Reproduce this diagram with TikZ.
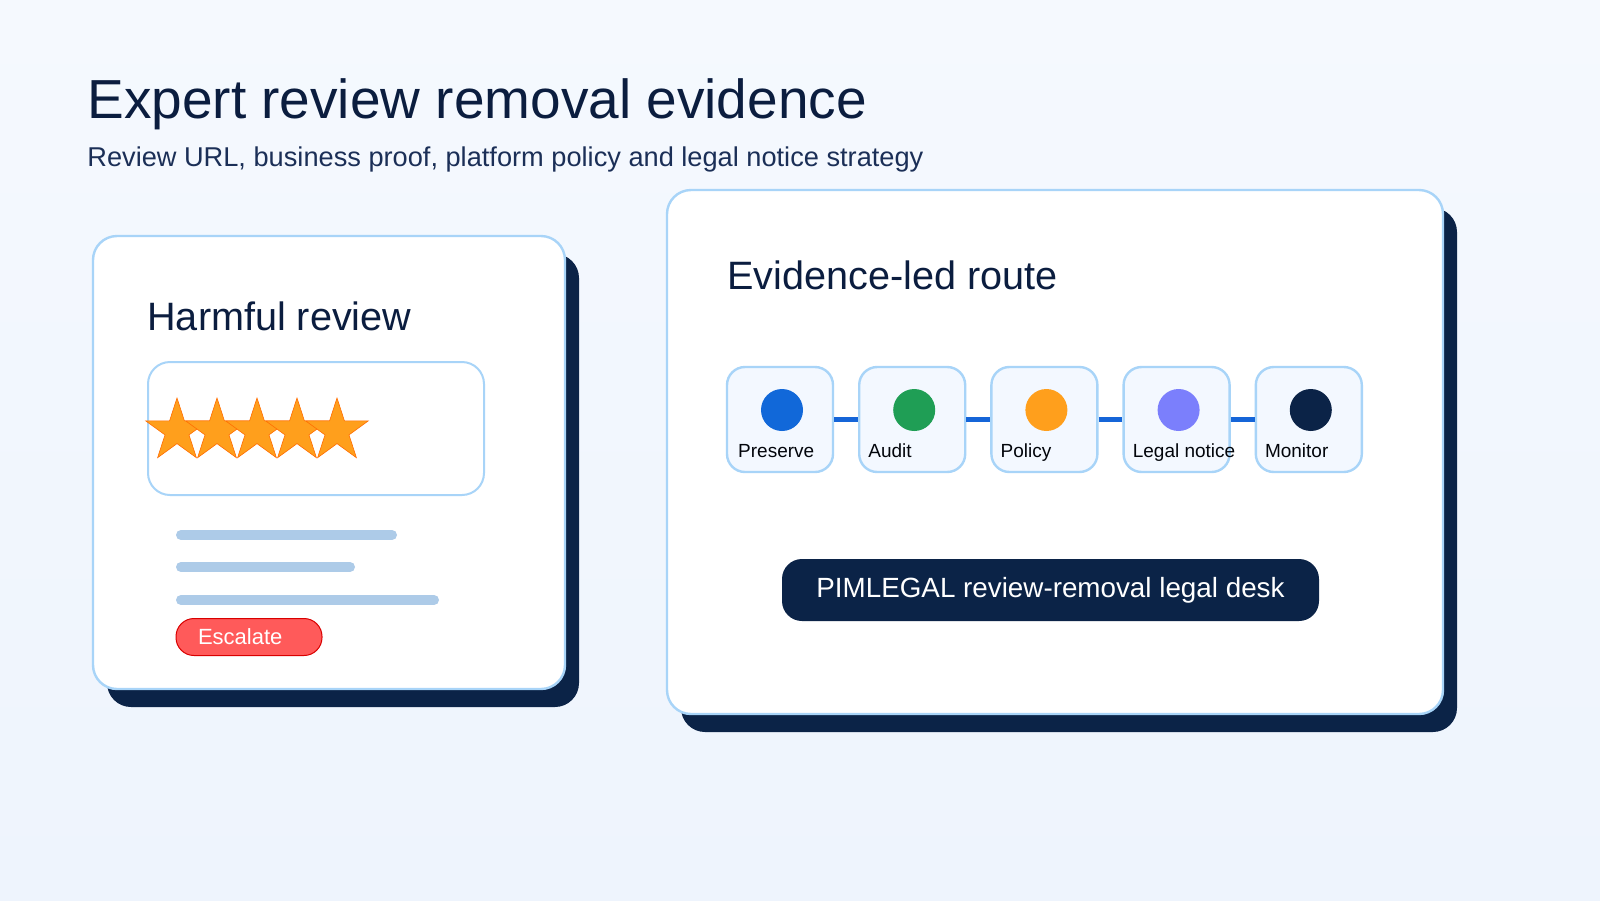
\documentclass[tikz,border=0pt]{standalone}
\usepackage{fontspec}
\setmainfont{Liberation Sans}
\usepackage{tikz}
\usetikzlibrary{positioning,shapes.geometric}

\definecolor{bgtop}{HTML}{F5F9FE}
\definecolor{bgbottom}{HTML}{EEF4FD}
\definecolor{ink}{HTML}{0B1D3F}
\definecolor{subink}{HTML}{1B2F57}
\definecolor{navy}{HTML}{0B2347}
\definecolor{edge}{HTML}{A8D4F8}
\definecolor{palefill}{HTML}{F3F8FF}
\definecolor{barblue}{HTML}{ADCBE8}
\definecolor{linkblue}{HTML}{1565D8}
\definecolor{starorange}{HTML}{FF9F1C}
\definecolor{alertred}{HTML}{FF5A5A}
\definecolor{dotblue}{HTML}{1168D9}
\definecolor{dotgreen}{HTML}{1F9E55}
\definecolor{dotviolet}{HTML}{7B7FFC}

\begin{document}
\begin{tikzpicture}[
  x=0.5pt, y=-0.5pt,
  node distance=11.9pt,
  card/.style={draw=edge, line width=1.2pt, fill=white, rounded corners=12pt},
  cardshadow/.style={fill=navy, rounded corners=12pt},
  heading/.style={anchor=base west, inner sep=0, text=ink, font=\fontsize{19.8pt}{24pt}\selectfont},
  stepbox/.style={
    draw=edge,
    fill=palefill,
    line width=1.2pt,
    rounded corners=9pt,
    minimum width=53pt,
    minimum height=52.5pt,
    inner sep=0
  },
  dot/.style={circle, minimum size=21pt, inner sep=0},
  steplabel/.style={anchor=base west, inner sep=0, text=black!85!navy, font=\fontsize{9.5pt}{11pt}\selectfont},
  link/.style={draw=linkblue, line width=2.5pt},
  reviewstar/.style={star, star points=5, star point ratio=2.618, minimum size=33pt, inner sep=0,
    fill=starorange, draw=orange!85!red, line width=0.3pt},
  bar/.style={draw=barblue, line width=5pt, line cap=round}
]
\shade[top color=bgtop, bottom color=bgbottom] (0,0) rectangle (1600,900);
\useasboundingbox (0,0) rectangle (1600,900);

% titles
\node[anchor=base west, inner sep=0, text=ink, font=\fontsize{27.5pt}{33pt}\selectfont] (title) at (87,118)
  {Expert review removal evidence};
\node[anchor=base west, inner sep=0, text=subink, font=\fontsize{13.6pt}{16pt}\selectfont] (subtitle) at (87,166)
  {Review URL, business proof, platform policy and legal notice strategy};

% left card: the review
\fill[cardshadow] (107,254) rectangle (579,707);
\draw[card] (93,236) rectangle (565,689);
\node[heading] (harmful) at (147,330) {Harmful review};
\draw[draw=edge, line width=1pt, fill=white, rounded corners=11pt] (148,362) rectangle (484,495);
\node[reviewstar] (star1) at (177,431) {};
\node[reviewstar] (star2) at (217,431) {};
\node[reviewstar] (star3) at (257,431) {};
\node[reviewstar] (star4) at (297,431) {};
\node[reviewstar] (star5) at (337,431) {};
\draw[bar] (181,535) -- (392,535);
\draw[bar] (181,567) -- (350,567);
\draw[bar] (181,600) -- (434,600);
\node[fill=alertred, draw=red!85!black, line width=0.5pt, rounded corners=9pt,
  minimum width=73pt, minimum height=18.5pt, inner xsep=11pt, inner ysep=0,
  text width=51pt, align=left, text=white, font=\fontsize{11pt}{13pt}\selectfont]
  (escalate) at (249,637) {Escalate};

% right card: the route
\fill[cardshadow] (681,208) rectangle (1457,732);
\draw[card] (667,190) rectangle (1443,714);
\node[heading] (route) at (727,289) {Evidence-led route};

\node[stepbox] (preserve) at (780,419.5) {};
\node[stepbox, right=of preserve] (audit) {};
\node[stepbox, right=of audit] (policy) {};
\node[stepbox, right=of policy] (notice) {};
\node[stepbox, right=of notice] (monitor) {};

\node[dot, fill=dotblue] (preservedot) at ([xshift=1pt, yshift=4.75pt]preserve.center) {};
\node[dot, fill=dotgreen] (auditdot) at ([xshift=1pt, yshift=4.75pt]audit.center) {};
\node[dot, fill=starorange] (policydot) at ([xshift=1pt, yshift=4.75pt]policy.center) {};
\node[dot, fill=dotviolet] (noticedot) at ([xshift=1pt, yshift=4.75pt]notice.center) {};
\node[dot, fill=navy] (monitordot) at ([xshift=1pt, yshift=4.75pt]monitor.center) {};

\node[steplabel] (preservelabel) at ([xshift=6pt, yshift=-18.75pt]preserve.west) {Preserve};
\node[steplabel] (auditlabel) at ([xshift=5pt, yshift=-18.75pt]audit.west) {Audit};
\node[steplabel] (policylabel) at ([xshift=5pt, yshift=-18.75pt]policy.west) {Policy};
\node[steplabel] (noticelabel) at ([xshift=5pt, yshift=-18.75pt]notice.west) {Legal notice};
\node[steplabel] (monitorlabel) at ([xshift=5pt, yshift=-18.75pt]monitor.west) {Monitor};

\draw[link] (preserve) -- (audit);
\draw[link] (audit) -- (policy);
\draw[link] (policy) -- (notice);
\draw[link] (notice) -- (monitor);

\node[fill=navy, rounded corners=10pt, minimum width=268.5pt, minimum height=31pt,
  text=white, font=\fontsize{13.9pt}{16pt}\selectfont]
  (desk) at (1050.5,590) {PIMLEGAL review-removal legal desk};
\end{tikzpicture}
\end{document}
